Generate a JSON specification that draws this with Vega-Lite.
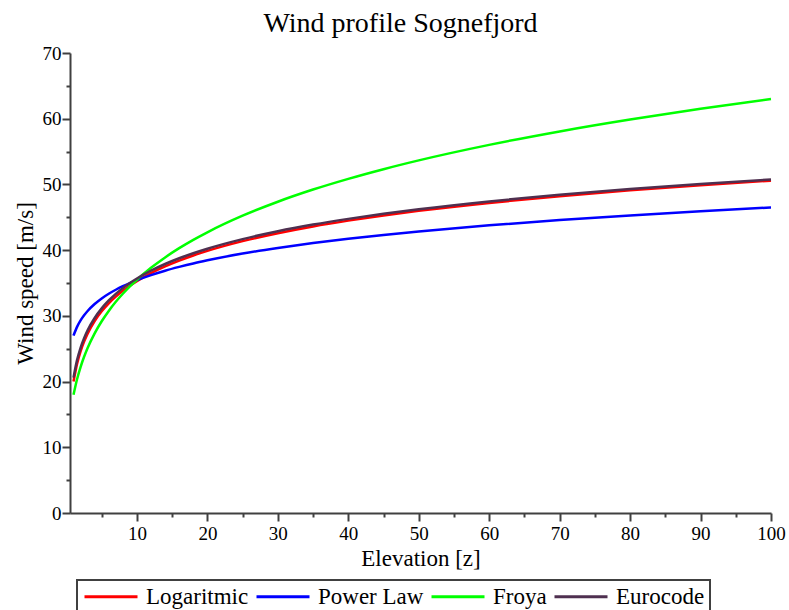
{
  "$schema": "https://vega.github.io/schema/vega-lite/v6.json",
  "autosize": {"type": "none"},
  "width": 701,
  "height": 460,
  "padding": {"left": 70, "top": 53, "right": 18, "bottom": 97},
  "background": "white",
  "config": {
    "view": {"stroke": null},
    "font": "Liberation Serif, serif",
    "legend": {"strokeWidth": 2}
  },
  "title": {
    "text": "Wind profile Sognefjord",
    "font": "Liberation Serif, serif",
    "fontSize": 28,
    "fontWeight": "normal",
    "color": "black",
    "offset": 6,
    "dx": -20
  },
  "data": {
    "values": [
      {"z": 1, "Logaritmic": 20.00, "Power Law": 27.00, "Froya": 18.00, "Eurocode": 20.60},
      {"z": 1.5, "Logaritmic": 22.69, "Power Law": 28.32, "Froya": 20.36, "Eurocode": 23.26},
      {"z": 2, "Logaritmic": 24.60, "Power Law": 29.30, "Froya": 22.21, "Eurocode": 25.14},
      {"z": 2.5, "Logaritmic": 26.08, "Power Law": 30.08, "Froya": 23.77, "Eurocode": 26.60},
      {"z": 3, "Logaritmic": 27.29, "Power Law": 30.74, "Froya": 25.11, "Eurocode": 27.80},
      {"z": 4, "Logaritmic": 29.21, "Power Law": 31.80, "Froya": 27.34, "Eurocode": 29.68},
      {"z": 5, "Logaritmic": 30.69, "Power Law": 32.65, "Froya": 29.18, "Eurocode": 31.14},
      {"z": 6, "Logaritmic": 31.90, "Power Law": 33.36, "Froya": 30.75, "Eurocode": 32.34},
      {"z": 7, "Logaritmic": 32.92, "Power Law": 33.97, "Froya": 32.14, "Eurocode": 33.35},
      {"z": 8, "Logaritmic": 33.81, "Power Law": 34.51, "Froya": 33.36, "Eurocode": 34.22},
      {"z": 9, "Logaritmic": 34.59, "Power Law": 34.99, "Froya": 34.48, "Eurocode": 34.99},
      {"z": 10, "Logaritmic": 35.29, "Power Law": 35.43, "Froya": 35.49, "Eurocode": 35.68},
      {"z": 12, "Logaritmic": 36.50, "Power Law": 36.20, "Froya": 37.31, "Eurocode": 36.88},
      {"z": 14, "Logaritmic": 37.52, "Power Law": 36.87, "Froya": 38.89, "Eurocode": 37.89},
      {"z": 16, "Logaritmic": 38.41, "Power Law": 37.45, "Froya": 40.30, "Eurocode": 38.76},
      {"z": 18, "Logaritmic": 39.19, "Power Law": 37.98, "Froya": 41.57, "Eurocode": 39.53},
      {"z": 20, "Logaritmic": 39.89, "Power Law": 38.45, "Froya": 42.72, "Eurocode": 40.22},
      {"z": 25, "Logaritmic": 41.37, "Power Law": 39.48, "Froya": 45.24, "Eurocode": 41.68},
      {"z": 30, "Logaritmic": 42.58, "Power Law": 40.33, "Froya": 47.37, "Eurocode": 42.88},
      {"z": 35, "Logaritmic": 43.61, "Power Law": 41.08, "Froya": 49.22, "Eurocode": 43.89},
      {"z": 40, "Logaritmic": 44.49, "Power Law": 41.73, "Froya": 50.85, "Eurocode": 44.76},
      {"z": 45, "Logaritmic": 45.28, "Power Law": 42.31, "Froya": 52.32, "Eurocode": 45.53},
      {"z": 50, "Logaritmic": 45.98, "Power Law": 42.84, "Froya": 53.66, "Eurocode": 46.22},
      {"z": 60, "Logaritmic": 47.19, "Power Law": 43.77, "Froya": 56.02, "Eurocode": 47.42},
      {"z": 70, "Logaritmic": 48.21, "Power Law": 44.57, "Froya": 58.07, "Eurocode": 48.43},
      {"z": 80, "Logaritmic": 49.10, "Power Law": 45.28, "Froya": 59.88, "Eurocode": 49.30},
      {"z": 90, "Logaritmic": 49.88, "Power Law": 45.92, "Froya": 61.50, "Eurocode": 50.07},
      {"z": 100, "Logaritmic": 50.58, "Power Law": 46.49, "Froya": 63.00, "Eurocode": 50.76}
    ]
  },
  "transform": [
    {"fold": ["Logaritmic", "Power Law", "Froya", "Eurocode"], "as": ["model", "v"]}
  ],
  "mark": {"type": "line", "strokeWidth": 2.5, "interpolate": "monotone"},
  "encoding": {
    "x": {
      "field": "z",
      "type": "quantitative",
      "scale": {"domain": [0.5, 100], "nice": false, "zero": false},
      "axis": {
        "title": "Elevation [z]",
        "values": [5,10,15,20,25,30,35,40,45,50,55,60,65,70,75,80,85,90,95,100],
        "labelExpr": "datum.value % 10 === 0 ? datum.label : ''",
        "tickSize": {"condition": {"test": "datum.value % 10 === 0", "value": 8}, "value": 4},
        "grid": false,
        "domainColor": "#404040",
        "domainWidth": 2,
        "tickColor": "#404040",
        "tickWidth": 2,
        "labelFont": "Liberation Serif, serif",
        "labelFontSize": 19,
        "labelColor": "black",
        "labelPadding": 3,
        "labelFlush": false,
        "labelOverlap": false,
        "titleFont": "Liberation Serif, serif",
        "titleFontSize": 23,
        "titleFontWeight": "normal",
        "titleColor": "black",
        "titlePadding": 4
      }
    },
    "y": {
      "field": "v",
      "type": "quantitative",
      "scale": {"domain": [0, 70], "nice": false},
      "axis": {
        "title": "Wind speed [m/s]",
        "values": [0,5,10,15,20,25,30,35,40,45,50,55,60,65,70],
        "labelExpr": "datum.value % 10 === 0 ? datum.label : ''",
        "tickSize": {"condition": {"test": "datum.value % 10 === 0", "value": 8}, "value": 4},
        "grid": false,
        "domainColor": "#404040",
        "domainWidth": 2,
        "tickColor": "#404040",
        "tickWidth": 2,
        "labelFont": "Liberation Serif, serif",
        "labelFontSize": 19,
        "labelColor": "black",
        "labelPadding": 1,
        "labelFlush": false,
        "labelOverlap": false,
        "titleFont": "Liberation Serif, serif",
        "titleFontSize": 23,
        "titleFontWeight": "normal",
        "titleColor": "black",
        "titlePadding": 5
      }
    },
    "color": {
      "field": "model",
      "type": "nominal",
      "scale": {
        "domain": ["Logaritmic", "Power Law", "Froya", "Eurocode"],
        "range": ["#ff0000", "#0000ff", "#00ff00", "#4f3050"]
      },
      "legend": {
        "title": null,
        "orient": "none",
        "legendX": 7,
        "legendY": 527,
        "direction": "horizontal",
        "columns": 4,
        "symbolType": "M-5.3,0H5.3",
        "symbolSize": 100,
        "symbolStrokeWidth": 3,
        "symbolOffset": 17.5,
        "labelFont": "Liberation Serif, serif",
        "labelFontSize": 23,
        "labelColor": "black",
        "labelOffset": 23.5,
        "columnPadding": 1,
        "padding": 5,
        "strokeColor": "#404040",
        "labelLimit": 300
      }
    }
  }
}
